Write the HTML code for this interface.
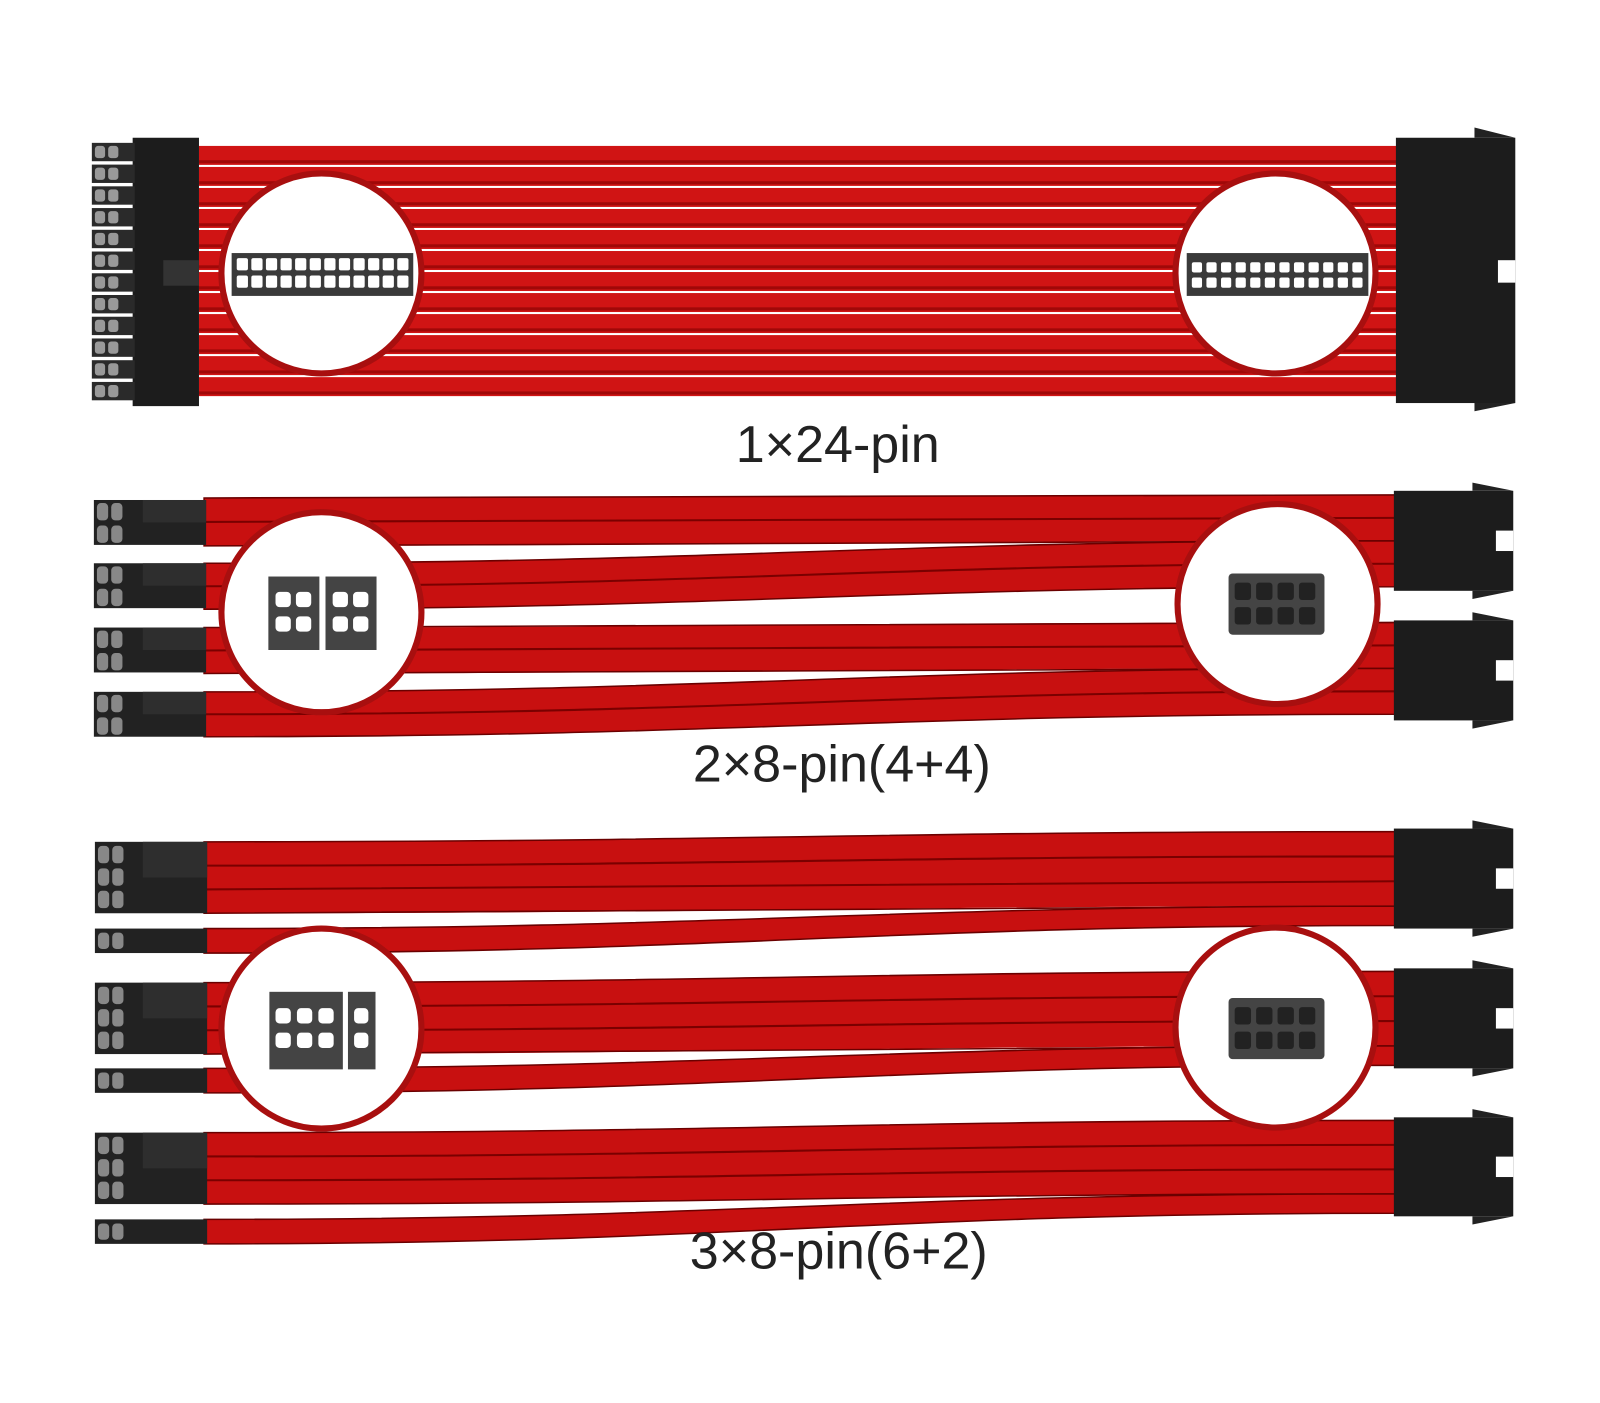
<!DOCTYPE html>
<html><head><meta charset="utf-8"><style>
html,body{margin:0;padding:0;background:#fff;}
svg{display:block;}
text{font-family:"Liberation Sans",sans-serif;fill:#222;}
</style></head><body>
<svg id="s" width="1600" height="1403" viewBox="0 0 1600 1403" xmlns="http://www.w3.org/2000/svg">
<rect width="1600" height="1403" fill="#fff"/>
<g transform="scale(1.0204)">
<g id="cables"></g>
<g id="conns"></g>
<g id="circles"></g>
<text x="821" y="453" font-size="51" text-anchor="middle">1×24-pin</text>
<text x="825" y="766" font-size="51" text-anchor="middle">2×8-pin(4+4)</text>
<text x="822" y="1243" font-size="51" text-anchor="middle">3×8-pin(6+2)</text>
</g>
</svg>
<script>
var NS="http://www.w3.org/2000/svg";
function el(p,t,a){var e=document.createElementNS(NS,t);for(var k in a)e.setAttribute(k,a[k]);document.getElementById(p).appendChild(e);return e;}
function strand(x1,a1,b1,x2,a2,b2,n){
  var c=(x2-x1)*0.45;
  var d="M"+x1+" "+a1+" C"+(x1+c)+" "+a1+" "+(x2-c)+" "+a2+" "+x2+" "+a2+" L"+x2+" "+b2+" C"+(x2-c)+" "+b2+" "+(x1+c)+" "+b1+" "+x1+" "+b1+" Z";
  el("cables","path",{d:d,fill:"#c81010",stroke:"#6a0000","stroke-width":1.5});
  for(var i=1;i<n;i++){var f=i/n;var ya=a1+(b1-a1)*f,yb=a2+(b2-a2)*f;
    el("cables","path",{d:"M"+x1+" "+ya+" C"+(x1+c)+" "+ya+" "+(x2-c)+" "+yb+" "+x2+" "+yb,fill:"none",stroke:"#7a0000","stroke-width":2});}
}
for(var i=0;i<12;i++){var y=143+i*20.6;el("cables","rect",{x:195,y:y,width:1175,height:18.6,fill:"#d01414"});
 el("cables","rect",{x:195,y:y+14,width:1175,height:3,fill:"#a00808"});}
el("conns","rect",{x:130,y:135,width:65,height:263,fill:"#1c1c1c"});
for(var i=0;i<12;i++){var y=140+i*21.3;el("conns","rect",{x:90,y:y,width:42,height:18,fill:"#2a2a2a"});
 el("conns","rect",{x:93,y:y+3,width:10,height:12,fill:"#999",rx:3});el("conns","rect",{x:106,y:y+3,width:10,height:12,fill:"#999",rx:3});}
el("conns","rect",{x:160,y:255,width:35,height:25,fill:"#333"});
el("conns","rect",{x:1368,y:135,width:117,height:260,fill:"#1c1c1c"});
el("conns","rect",{x:1468,y:255,width:17,height:22,fill:"#fff"});
el("conns","polygon",{points:"1445,135 1485,135 1445,125",fill:"#222"});
el("conns","polygon",{points:"1445,395 1485,395 1445,403",fill:"#222"});
strand(200,488,535,1370,485,530,2);
strand(200,552,597,1370,530,575,2);
strand(200,615,660,1370,610,655,2);
strand(200,678,722,1370,655,700,2);
[490,552,615,678].forEach(function(y){
 el("conns","rect",{x:92,y:y,width:110,height:44,fill:"#222"});
 el("conns","rect",{x:140,y:y,width:62,height:22,fill:"#2e2e2e"});
 for(var r=0;r<2;r++)for(var c=0;c<2;c++)el("conns","rect",{x:95+c*14,y:y+3+r*22,width:11,height:17,fill:"#888",rx:4});
});
function rconn(y,h){el("conns","rect",{x:1366,y:y,width:117,height:h,fill:"#1c1c1c"});
 el("conns","rect",{x:1466,y:y+h/2-10,width:17,height:20,fill:"#fff"});
 el("conns","polygon",{points:(1443)+","+y+" 1483,"+y+" 1443,"+(y-8),fill:"#222"});
 el("conns","polygon",{points:(1443)+","+(y+h)+" 1483,"+(y+h)+" 1443,"+(y+h+8),fill:"#222"});}
rconn(481,98);rconn(608,98);
function grp(y6,y2,ry,rh){
 strand(200,y6,y6+70,1368,ry+3,ry+rh-22,3);
 strand(200,y2,y2+24,1368,ry+rh-22,ry+rh-3,1);
 el("conns","rect",{x:93,y:y6,width:110,height:70,fill:"#222"});
 el("conns","rect",{x:140,y:y6,width:63,height:35,fill:"#2e2e2e"});
 for(var r=0;r<3;r++)for(var c=0;c<2;c++)el("conns","rect",{x:96+c*14,y:y6+4+r*22,width:11,height:17,fill:"#888",rx:4});
 el("conns","rect",{x:93,y:y2,width:110,height:24,fill:"#222"});
 for(var c=0;c<2;c++)el("conns","rect",{x:96+c*14,y:y2+4,width:11,height:16,fill:"#888",rx:4});
 rconn(ry,rh);
}
grp(825,910,812,98);grp(963,1047,949,98);grp(1110,1195,1095,97);
function circ(cx,cy){el("circles","circle",{cx:cx,cy:cy,r:98,fill:"#fff",stroke:"#a80f0f","stroke-width":6});}
circ(315,268);circ(1250,268);circ(315,600);circ(1252,592);circ(315,1008);circ(1250,1007);
el("circles","rect",{x:227,y:248,width:178,height:42,fill:"#3a3a3a"});
for(var r=0;r<2;r++)for(var c=0;c<12;c++)el("circles","rect",{x:232+c*14.3,y:253+r*17,width:11,height:12,fill:"#fff",rx:2});
el("circles","rect",{x:1163,y:248,width:178,height:42,fill:"#3a3a3a"});
for(var r=0;r<2;r++)for(var c=0;c<12;c++)el("circles","rect",{x:1168+c*14.3,y:257+r*15,width:10,height:10,fill:"#fff",rx:2});
el("circles","rect",{x:263,y:565,width:50,height:72,fill:"#444"});el("circles","rect",{x:319,y:565,width:50,height:72,fill:"#444"});
[[263],[319]].forEach(function(a){for(var r=0;r<2;r++)for(var c=0;c<2;c++)el("circles","rect",{x:a[0]+7+c*20,y:580+r*24,width:15,height:15,fill:"#fff",rx:4});});
el("circles","rect",{x:1204,y:562,width:94,height:60,fill:"#444",rx:4});
for(var r=0;r<2;r++)for(var c=0;c<4;c++)el("circles","rect",{x:1210+c*21,y:571+r*24,width:16,height:17,fill:"#222",rx:3});
el("circles","rect",{x:264,y:972,width:72,height:76,fill:"#444"});
for(var r=0;r<2;r++)for(var c=0;c<3;c++)el("circles","rect",{x:270+c*21,y:988+r*24,width:15,height:15,fill:"#fff",rx:4});
el("circles","rect",{x:341,y:972,width:27,height:76,fill:"#444"});
for(var r=0;r<2;r++)el("circles","rect",{x:347,y:988+r*24,width:14,height:15,fill:"#fff",rx:4});
el("circles","rect",{x:1204,y:978,width:94,height:60,fill:"#444",rx:4});
for(var r=0;r<2;r++)for(var c=0;c<4;c++)el("circles","rect",{x:1210+c*21,y:987+r*24,width:16,height:17,fill:"#222",rx:3});
</script>
</body></html>
